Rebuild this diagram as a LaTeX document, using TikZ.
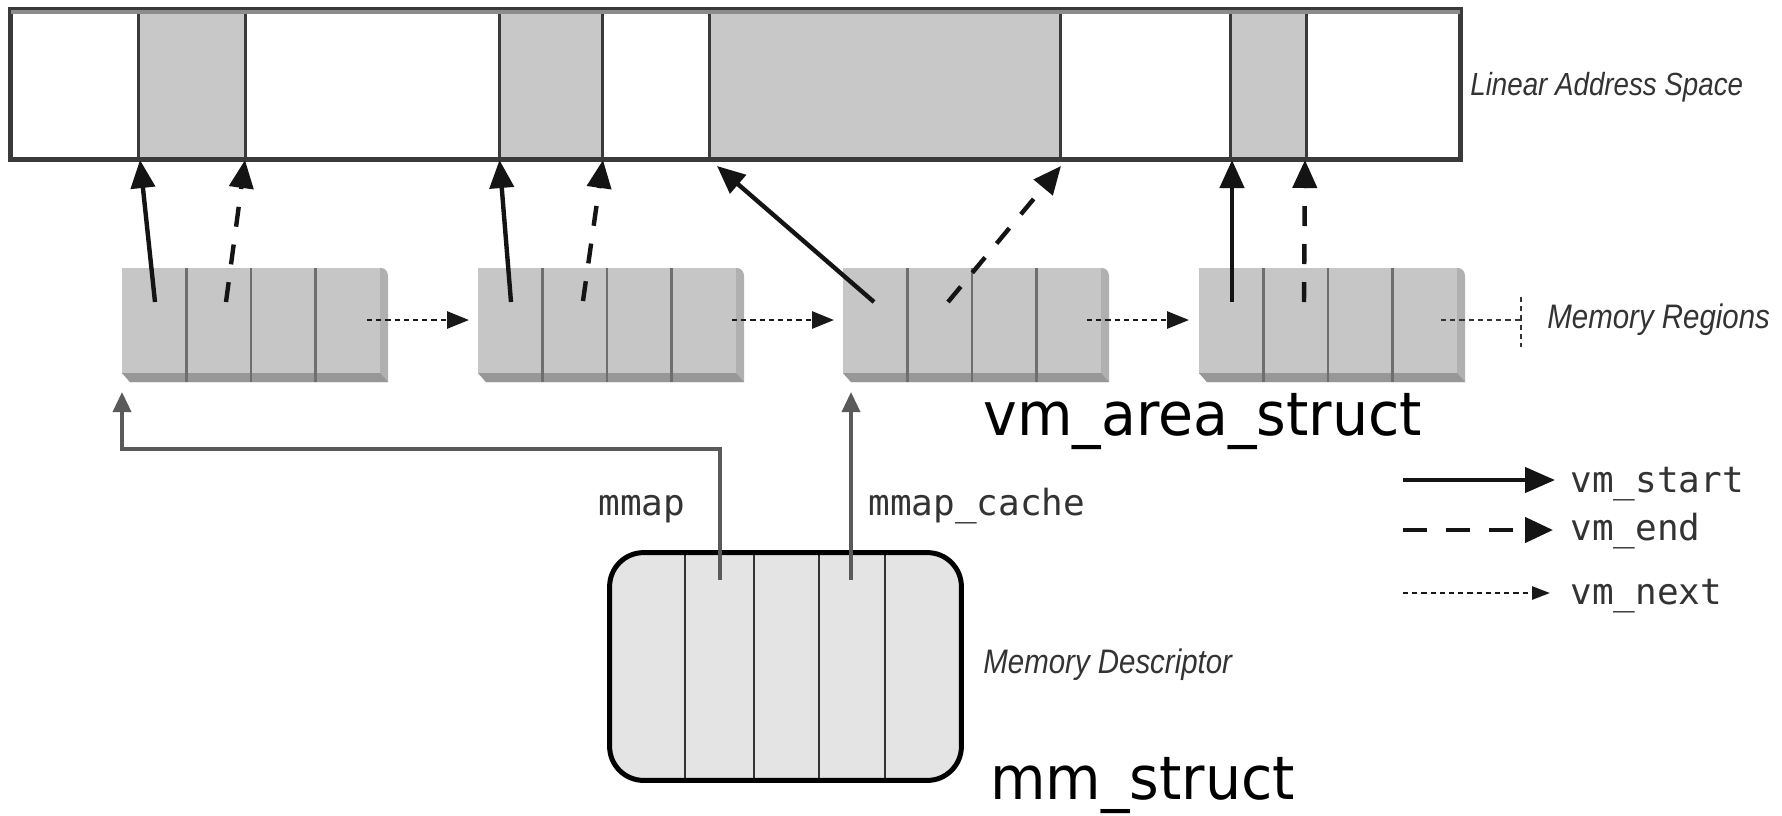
\documentclass[tikz,border=0pt]{standalone}
\usepackage{fontspec}
\setmainfont{Liberation Sans}
\newfontfamily\bigfont{DejaVu Sans}
\newfontfamily\codefont{DejaVu Sans Mono}
\newfontfamily\labelfont{Liberation Sans}
\usetikzlibrary{arrows.meta,calc}

\definecolor{barline}{HTML}{3A3A3A}
\definecolor{topband}{HTML}{8C8C8C}
\definecolor{colgray}{HTML}{C8C8C8}
\definecolor{facegray}{HTML}{C6C6C6}
\definecolor{sidegray}{HTML}{B0B0B0}
\definecolor{floorgray}{HTML}{979797}
\definecolor{divgray}{HTML}{6E6E6E}
\definecolor{descfill}{HTML}{E4E4E4}
\definecolor{ptrgray}{HTML}{5A5A5A}
\definecolor{inkgray}{HTML}{333333}

\tikzset{
  startarrow/.style={line width=2.2pt, draw=black!92, -{Triangle[length=14pt,width=12pt]}},
  endarrow/.style={startarrow, dash pattern=on 10pt off 9pt},
  nextarrow/.style={line width=1.4pt, draw=black!90, dash pattern=on 2.6pt off 2pt, -{Triangle[length=11pt,width=8.5pt]}},
  dotline/.style={line width=1.3pt, draw=black!80, dash pattern=on 2.6pt off 2pt},
  ptr/.style={line width=1.8pt, draw=ptrgray, -{Triangle[length=10pt,width=9pt]}},
  colbox/.style={fill=colgray, minimum height=74.35pt, inner sep=0pt, outer sep=0pt, anchor=north west},
  coledge/.style={draw=barline, line width=1.5pt},
  rcell/.style={fill=facegray, minimum width=32.25pt, minimum height=52.5pt, inner sep=0pt, outer sep=0pt, anchor=north west},
  rdiv/.style={draw=divgray, line width=1.4pt},
  mmdiv/.style={draw=inkgray, line width=1.4pt},
  codelabel/.style={font=\codefont\fontsize{18}{20}\selectfont, text=inkgray, inner sep=0pt, anchor=base west},
  italiclabel/.style={font=\labelfont\itshape\fontsize{17}{20}\selectfont, text=inkgray, inner sep=0pt, anchor=base west},
  biglabel/.style={font=\bigfont\fontsize{30}{34}\selectfont, text=black, inner sep=0pt, anchor=base west}
}

\begin{document}
\begin{tikzpicture}[x=0.5pt,y=-0.5pt]
\fill[white] (0,0) rectangle (1782,815);
\useasboundingbox (0,0) rectangle (1782,815);

% ---- linear address space ----
\node[draw=barline, line width=1.8pt, fill=white, minimum width=724.2pt, minimum height=74.35pt,
      inner sep=0pt, anchor=north west] (bar) at (9.6,8.3) {};
\node[colbox, minimum width=53.5pt]  (col1) at (138,8.3) {};
\node[colbox, minimum width=51.25pt] (col2) at (499.5,8.3) {};
\node[colbox, minimum width=175.5pt] (col3) at (709,8.3) {};
\node[colbox, minimum width=38pt]    (col4) at (1230,8.3) {};
\foreach \c in {col1,col2,col3,col4}{
  \draw[coledge] (\c.north west) -- (\c.south west);
  \draw[coledge] (\c.north east) -- (\c.south east);
}
\fill[topband] (bar.north west) rectangle ([yshift=-3pt]bar.north east);
\draw[draw=barline, line width=1.8pt] (bar.north west) rectangle (bar.south east);
\node[italiclabel, font=\labelfont\itshape\fontsize{16}{20}\selectfont] (lasl) at (1470,95)
  {\scalebox{0.866}[1]{Linear Address Space}};

% ---- memory regions (vm_area_struct) ----
\foreach \x/\i in {122/1,478/2,843/3,1199/4}{
  \fill[sidegray] (\x+250,268) -- (\x+259,268) to[out=0,in=90] (\x+266,276)
        -- (\x+266,382) -- (\x+8,382) -- (\x,373) -- cycle;
  \fill[floorgray] (\x,373) -- (\x+8,382) -- (\x+266,382) -- (\x+258,373) -- cycle;
  \node[rcell] (r\i-1) at (\x,268) {};
  \node[rcell] (r\i-2) at (\x+64.5,268) {};
  \node[rcell] (r\i-3) at (\x+129,268) {};
  \node[rcell] (r\i-4) at (\x+193.5,268) {};
  \foreach \k in {1,2,3}{
    \draw[rdiv] (r\i-\k.north east) -- ([yshift=-4.5pt]r\i-\k.south east);
  }
}
\node[italiclabel] (mrl) at (1547,328) {\scalebox{0.866}[1]{Memory Regions}};
\node[biglabel] (vmas) at (983,435) {\scalebox{0.95}[1]{vm\_area\_struct}};

% vm_start / vm_end pointers into the address space
\coordinate (a1) at (155,302);  \coordinate (a1t) at (140,160);
\coordinate (b1) at (226,302);  \coordinate (b1t) at (245,160);
\coordinate (a2) at (511,302);  \coordinate (a2t) at (499.5,160);
\coordinate (b2) at (583,301);  \coordinate (b2t) at (603,160);
\coordinate (a3) at (874,302);  \coordinate (a3t) at (717,166);
\coordinate (b3) at (948,302);  \coordinate (b3t) at (1061,166);
\coordinate (a4) at (1232,302); \coordinate (a4t) at (1232,160);
\coordinate (b4) at (1304,302); \coordinate (b4t) at (1305,160);
\foreach \k in {1,2,3,4}{
  \draw[startarrow] (a\k) -- (a\k t);
  \draw[endarrow] (b\k) -- (b\k t);
}

% vm_next chain
\coordinate (n1) at (367,320);
\coordinate (n2) at (732,320);
\coordinate (n3) at (1087,320);
\coordinate (n4) at (1441,320);
\coordinate (tick) at (1521,320);
\coordinate (ticktop) at (1521,297);
\coordinate (tickbot) at (1521,347);
\draw[nextarrow, shorten >=4.5pt] (n1) -- (n1 -| r2-1.west);
\draw[nextarrow, shorten >=4.5pt] (n2) -- (n2 -| r3-1.west);
\draw[nextarrow, shorten >=5pt] (n3) -- (n3 -| r4-1.west);
\draw[dotline] (n4) -- (tick);
\draw[dotline] (ticktop) -- (tickbot);

% ---- memory descriptor (mm_struct) ----
\node[fill=descfill, rounded corners=17pt, minimum width=175.5pt, minimum height=113.5pt,
      inner sep=0pt] (mm) at (785.5,666.5) {};
\foreach \d in {685,754,819,885}{
  \draw[mmdiv] (\d,553) -- (\d,780);
}
\draw[draw=black, line width=2.5pt, rounded corners=17pt] (mm.north west) rectangle (mm.south east);
\node[italiclabel] (mdl) at (983,673) {\scalebox{0.866}[1]{Memory Descriptor}};
\node[biglabel] (mms) at (990,799) {\scalebox{0.95}[1]{mm\_struct}};

% mmap and mmap_cache pointers
\coordinate (mmapsrc) at (720,580);
\coordinate (cachesrc) at (851,580);
\coordinate (mmapknee) at (122,449);
\draw[ptr, shorten >=9.5pt] (mmapsrc) |- (mmapknee) -- (r1-1.south west);
\draw[ptr, shorten >=9.5pt] (cachesrc) -- (cachesrc |- r3-1.south);
\node[codelabel] (mmapl) at (598,515) {mmap};
\node[codelabel] (cachel) at (868,515) {mmap\_cache};

% ---- legend ----
\node[codelabel] (lt1) at (1570,492) {vm\_start};
\node[codelabel] (lt2) at (1570,540) {vm\_end};
\node[codelabel] (lt3) at (1570,604) {vm\_next};
\coordinate (lg1) at (1403,480);
\coordinate (lg2) at (1403,530);
\coordinate (lg3) at (1403,593);
\draw[startarrow, -{Triangle[length=15pt,width=12.5pt]}, shorten >=7.5pt] (lg1) -- (lg1 -| lt1.west);
\draw[endarrow, -{Triangle[length=14pt,width=12.5pt]}, dash pattern=on 12pt off 9.5pt, shorten >=8.5pt] (lg2) -- (lg2 -| lt2.west);
\draw[nextarrow, -{Triangle[length=9pt,width=6.5pt]}, shorten >=10pt] (lg3) -- (lg3 -| lt3.west);
\end{tikzpicture}
\end{document}
